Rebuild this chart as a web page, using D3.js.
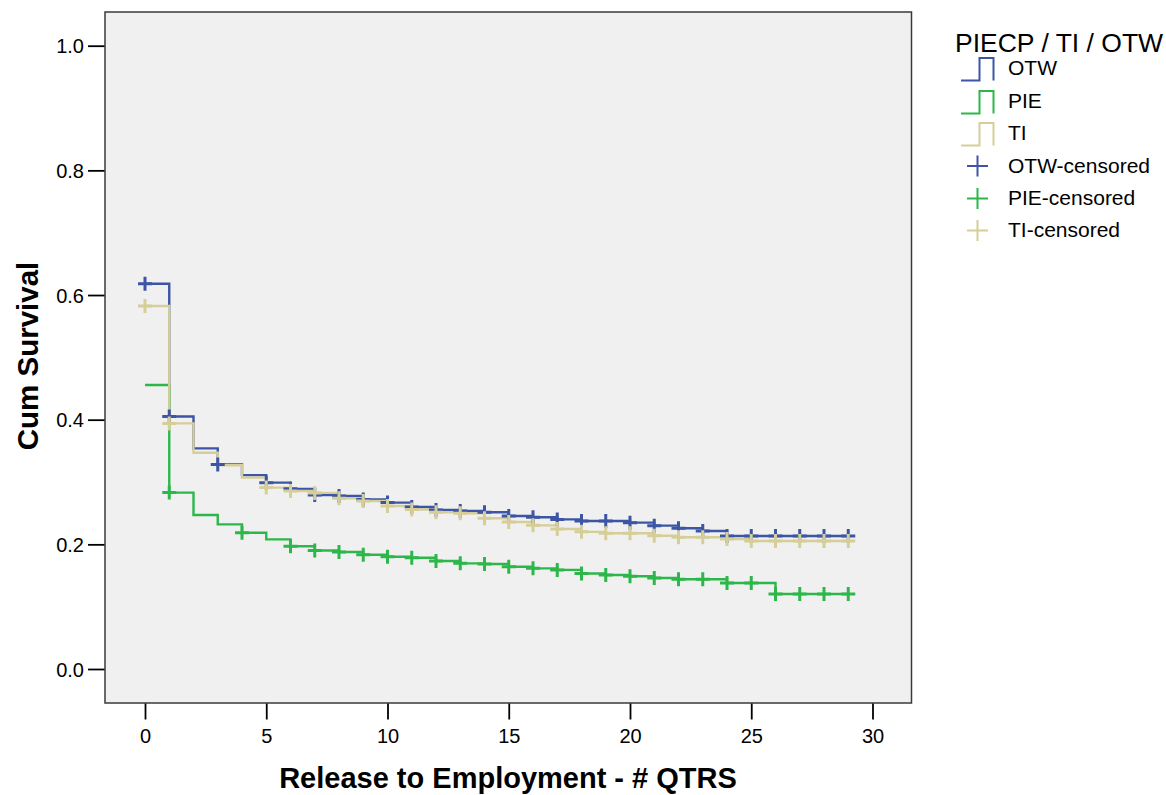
<!DOCTYPE html>
<html>
<head>
<meta charset="utf-8">
<script src="https://cdn.jsdelivr.net/npm/d3@7"></script>
<style>
  html, body { margin: 0; padding: 0; background: #ffffff; }
  svg { display: block; font-family: "Liberation Sans", Arial, sans-serif; }
</style>
</head>
<body>
<svg id="chart" width="1166" height="795"></svg>
<script>
// ---- data ----
const times = d3.range(0, 30); // quarters 0..29
const otwSurvival = [0.618, 0.405, 0.354, 0.328, 0.311, 0.299, 0.289, 0.279, 0.2775, 0.272,
  0.267, 0.260, 0.255, 0.2535, 0.2514, 0.2455, 0.2434, 0.240, 0.2374, 0.2374,
  0.2348, 0.230, 0.2257, 0.2214, 0.2134, 0.2134, 0.2134, 0.2134, 0.2134, 0.2134];
const pieSurvival = [0.4556, 0.283, 0.247, 0.232, 0.2187, 0.208, 0.197, 0.190, 0.1877, 0.1834,
  0.180, 0.1786, 0.1733, 0.1695, 0.1685, 0.164, 0.1615, 0.159, 0.1532, 0.1508,
  0.1487, 0.146, 0.1439, 0.1439, 0.138, 0.138, 0.1203, 0.1203, 0.1203, 0.1203];
const tiSurvival = [0.5824, 0.394, 0.347, 0.327, 0.307, 0.291, 0.2856, 0.2825, 0.274, 0.2695,
  0.2615, 0.256, 0.2514, 0.2498, 0.2418, 0.2358, 0.2305, 0.2246, 0.2200, 0.2177,
  0.2177, 0.2139, 0.2113, 0.2113, 0.2086, 0.2054, 0.2054, 0.2054, 0.2054, 0.2054];
const otwCensored = [0, 1, 3, 5, 6, 7, 8, 9, 10, 11, 12, 13, 14, 15, 16, 17, 18, 19, 20, 21, 22, 23, 24, 25, 26, 27, 28, 29];
const pieCensored = [1, 4, 6, 7, 8, 9, 10, 11, 12, 13, 14, 15, 16, 17, 18, 19, 20, 21, 22, 23, 24, 25, 26, 27, 28, 29];
const tiCensored = [0, 1, 5, 6, 7, 8, 9, 10, 11, 12, 13, 14, 15, 16, 17, 18, 19, 20, 21, 22, 23, 24, 25, 26, 27, 28, 29];
const groupNames = ["OTW", "PIE", "TI"];
const xTicks = [0, 5, 10, 15, 20, 25, 30];
const yTicks = [0.0, 0.2, 0.4, 0.6, 0.8, 1.0];
const legendTitle = "PIECP / TI / OTW";
const xTitle = "Release to Employment - # QTRS";
const yTitle = "Cum Survival";

// ---- styles ----
const colors = { OTW: "#3c55a5", PIE: "#2db74a", TI: "#d5ce98" };
const series = [
  { name: "OTW", values: otwSurvival, censored: otwCensored },
  { name: "PIE", values: pieSurvival, censored: pieCensored },
  { name: "TI", values: tiSurvival, censored: tiCensored }
];

const svg = d3.select("#chart");
const frame = { left: 105, top: 12, right: 911.5, bottom: 703 };

const x = d3.scaleLinear().domain([0, 30]).range([145, 872.5]);
const y = d3.scaleLinear().domain([0, 1]).range([669, 45.7]);

// plot background / frame
svg.append("rect")
  .attr("x", frame.left).attr("y", frame.top)
  .attr("width", frame.right - frame.left).attr("height", frame.bottom - frame.top)
  .attr("fill", "#f0f0f0").attr("stroke", "#3a3a3a").attr("stroke-width", 1.5);

// y axis
const yAxis = d3.axisLeft(y).tickValues(yTicks).tickFormat(d3.format(".1f")).tickSize(16.5).tickSizeOuter(0).tickPadding(4);
const gy = svg.append("g").attr("transform", `translate(${frame.left - 0.5},0)`).call(yAxis);
gy.select(".domain").remove();
gy.selectAll(".tick line").attr("stroke", "#000").attr("stroke-width", 1.8);
gy.selectAll(".tick text").attr("font-size", 20).attr("fill", "#000").attr("dy", "0.36em")
  .attr("font-family", "'Liberation Sans', Arial, sans-serif");

// x axis
const xAxis = d3.axisBottom(x).tickValues(xTicks).tickFormat(d3.format("d")).tickSize(16).tickSizeOuter(0).tickPadding(9);
const gx = svg.append("g").attr("transform", `translate(0,${frame.bottom + 0.5})`).call(xAxis);
gx.select(".domain").remove();
gx.selectAll(".tick line").attr("stroke", "#000").attr("stroke-width", 1.8);
gx.selectAll(".tick text").attr("font-size", 20).attr("fill", "#000")
  .attr("font-family", "'Liberation Sans', Arial, sans-serif");

// axis titles
svg.append("text")
  .attr("x", 508).attr("y", 788)
  .attr("text-anchor", "middle")
  .attr("font-size", 29).attr("font-weight", "bold").attr("fill", "#000")
  .text(xTitle);
svg.append("text")
  .attr("transform", `translate(37.5,356) rotate(-90)`)
  .attr("text-anchor", "middle")
  .attr("font-size", 29.5).attr("font-weight", "bold").attr("fill", "#000")
  .text(yTitle);

// survival step lines
const line = d3.line()
  .x(d => x(d[0])).y(d => y(d[1]))
  .curve(d3.curveStepAfter);

const gLines = svg.append("g");
series.forEach(s => {
  gLines.append("path")
    .datum(times.map((t, i) => [t, s.values[i]]))
    .attr("d", line)
    .attr("fill", "none")
    .attr("stroke", colors[s.name])
    .attr("stroke-width", 2.4)
    .attr("stroke-linejoin", "miter");
});

// censor marks
const half = 7;
const gMarks = svg.append("g");
series.forEach(s => {
  s.censored.forEach(t => {
    const cx = x(t), cy = y(s.values[times.indexOf(t)]);
    gMarks.append("path")
      .attr("d", `M${cx - half},${cy}H${cx + half}M${cx},${cy - half}V${cy + half}`)
      .attr("stroke", colors[s.name])
      .attr("stroke-width", 3)
      .attr("fill", "none");
  });
});

// legend
const lg = svg.append("g");
lg.append("text")
  .attr("x", 955).attr("y", 51.5)
  .attr("font-size", 26.5).attr("fill", "#000")
  .text(legendTitle);

const rowBase = [75, 108, 140, 172.5, 205, 237];
groupNames.forEach((name, i) => {
  const base = rowBase[i];
  const yb = base + 5.5, yt = base - 17;
  lg.append("path")
    .attr("d", `M961,${yb}H979.5V${yt}H993.5V${yb}`)
    .attr("fill", "none").attr("stroke", colors[name]).attr("stroke-width", 2);
  lg.append("text")
    .attr("x", 1008).attr("y", base)
    .attr("font-size", 21).attr("fill", "#000")
    .text(name);
});
groupNames.forEach((name, i) => {
  const base = rowBase[i + 3];
  const cx = 977.5, cy = base - 6.5;
  lg.append("path")
    .attr("d", `M${cx - 10.5},${cy}H${cx + 10.5}M${cx},${cy - 10.5}V${cy + 10.5}`)
    .attr("fill", "none").attr("stroke", colors[name]).attr("stroke-width", 2);
  lg.append("text")
    .attr("x", 1008).attr("y", base)
    .attr("font-size", 21).attr("fill", "#000")
    .text(name + "-censored");
});
</script>
</body>
</html>
